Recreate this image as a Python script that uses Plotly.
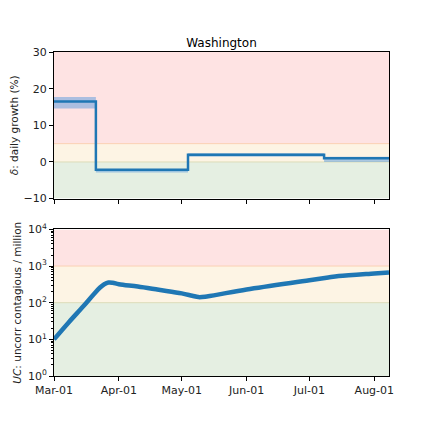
import plotly.graph_objects as go
from plotly.subplots import make_subplots

TITLE = "Washington"

# daily growth rate, piecewise constant (%)
STEP_DATES = ["2020-03-01", "2020-03-21", "2020-05-04", "2020-07-08", "2020-08-08"]
STEP_VALUES = [16.5, -2.1, 2.0, 1.0, 1.0]
STEP_LOW = [14.6, -2.9, 1.4, 0.0, 0.0]
STEP_HIGH = [17.7, -2.1, 2.4, 1.4, 1.4]

# uncorrected contagious per million
UC_DATES = ["2020-03-01", "2020-03-08", "2020-03-15", "2020-03-20", "2020-03-23",
            "2020-03-25", "2020-03-27", "2020-03-29", "2020-04-01", "2020-04-10",
            "2020-04-20", "2020-05-01", "2020-05-06", "2020-05-09", "2020-05-13",
            "2020-06-01", "2020-07-01", "2020-07-10", "2020-07-15", "2020-08-01",
            "2020-08-08"]
UC_VALUES = [10, 29, 80, 170, 260, 320, 355, 350, 320, 275, 225, 180, 155, 142, 148,
             230, 410, 490, 535, 630, 670]

X_TICKS = ["2020-03-01", "2020-04-01", "2020-05-01", "2020-06-01", "2020-07-01", "2020-08-01"]
X_TICKTEXT = ["Mar-01", "Apr-01", "May-01", "Jun-01", "Jul-01", "Aug-01"]
X_RANGE = ["2020-03-01", "2020-08-08"]

BLUE = "#1f77b4"
RED_BG = "#fee3e3"
ORANGE_BG = "#fdf4e4"
GREEN_BG = "#e5efe2"

fig = make_subplots(rows=2, cols=1, vertical_spacing=0.095)

fig.add_trace(go.Scatter(x=STEP_DATES, y=STEP_HIGH, mode="lines", line_shape="hv",
                         line_width=0, showlegend=False, hoverinfo="skip"), row=1, col=1)
fig.add_trace(go.Scatter(x=STEP_DATES, y=STEP_LOW, mode="lines", line_shape="hv",
                         line_width=0, fill="tonexty", fillcolor="rgba(70,145,220,0.45)",
                         showlegend=False, hoverinfo="skip"), row=1, col=1)
fig.add_trace(go.Scatter(x=STEP_DATES, y=STEP_VALUES, mode="lines", line_shape="hv",
                         line=dict(color=BLUE, width=2.5), showlegend=False), row=1, col=1)

fig.add_trace(go.Scatter(x=UC_DATES, y=UC_VALUES, mode="lines", line_shape="spline",
                         line=dict(color=BLUE, width=4.5), showlegend=False), row=2, col=1)

# shaded bands (thresholds)
for row, (lo, mid, hi, top) in [(1, (-10, 0, 5, 30)), (2, (1, 100, 1000, 10000))]:
    fig.add_hrect(y0=hi, y1=top, fillcolor=RED_BG, opacity=1, line_width=0, layer="below",
                  row=row, col=1)
    fig.add_hrect(y0=mid, y1=hi, fillcolor=ORANGE_BG, opacity=1, line_width=0, layer="below",
                  row=row, col=1)
    fig.add_hrect(y0=lo, y1=mid, fillcolor=GREEN_BG, opacity=1, line_width=0, layer="below",
                  row=row, col=1)
    fig.add_hline(y=hi, line_color="#fbd0b4", line_width=1, layer="below", row=row, col=1)
    fig.add_hline(y=mid, line_color="#dcdcb8", line_width=1, layer="below", row=row, col=1)

axis_style = dict(showline=True, linecolor="black", linewidth=1, mirror=True,
                  ticks="outside", ticklen=4, tickcolor="black", showgrid=False,
                  zeroline=False, automargin=False, tickfont=dict(size=11, color="#222"))

fig.update_xaxes(range=X_RANGE, tickvals=X_TICKS, ticktext=X_TICKTEXT, **axis_style)
fig.update_xaxes(showticklabels=False, row=1, col=1)

fig.update_yaxes(range=[-10, 30], tickvals=[-10, 0, 10, 20, 30], row=1, col=1, **axis_style)
fig.update_yaxes(type="log", range=[0, 4], tickvals=[1, 10, 100, 1000, 10000],
                 ticktext=["10<sup>0</sup>", "10<sup>1</sup>", "10<sup>2</sup>",
                           "10<sup>3</sup>", "10<sup>4</sup>"],
                 minor=dict(ticks="outside", ticklen=2, tickcolor="black", dtick="D1"),
                 row=2, col=1, **axis_style)

fig.update_yaxes(title=dict(text="<i>δ</i>: daily growth (%)", font=dict(size=10.5), standoff=6),
                 row=1, col=1)
fig.update_yaxes(title=dict(text="<i>UC</i>: uncorr contagious / million", font=dict(size=10.5),
                            standoff=4), row=2, col=1)

# the page adds an 8px body margin, so the margins are shifted to compensate
fig.update_layout(
    width=432, height=432,
    template="none",
    paper_bgcolor="white", plot_bgcolor="white",
    font=dict(family="DejaVu Sans", color="#222"),
    title=dict(text=TITLE, x=0.5, xanchor="center", xref="paper", y=0.91, yanchor="bottom",
               font=dict(size=12, color="black")),
    margin=dict(l=46, r=51, t=44, b=64),
)

fig.write_html("out.html")
